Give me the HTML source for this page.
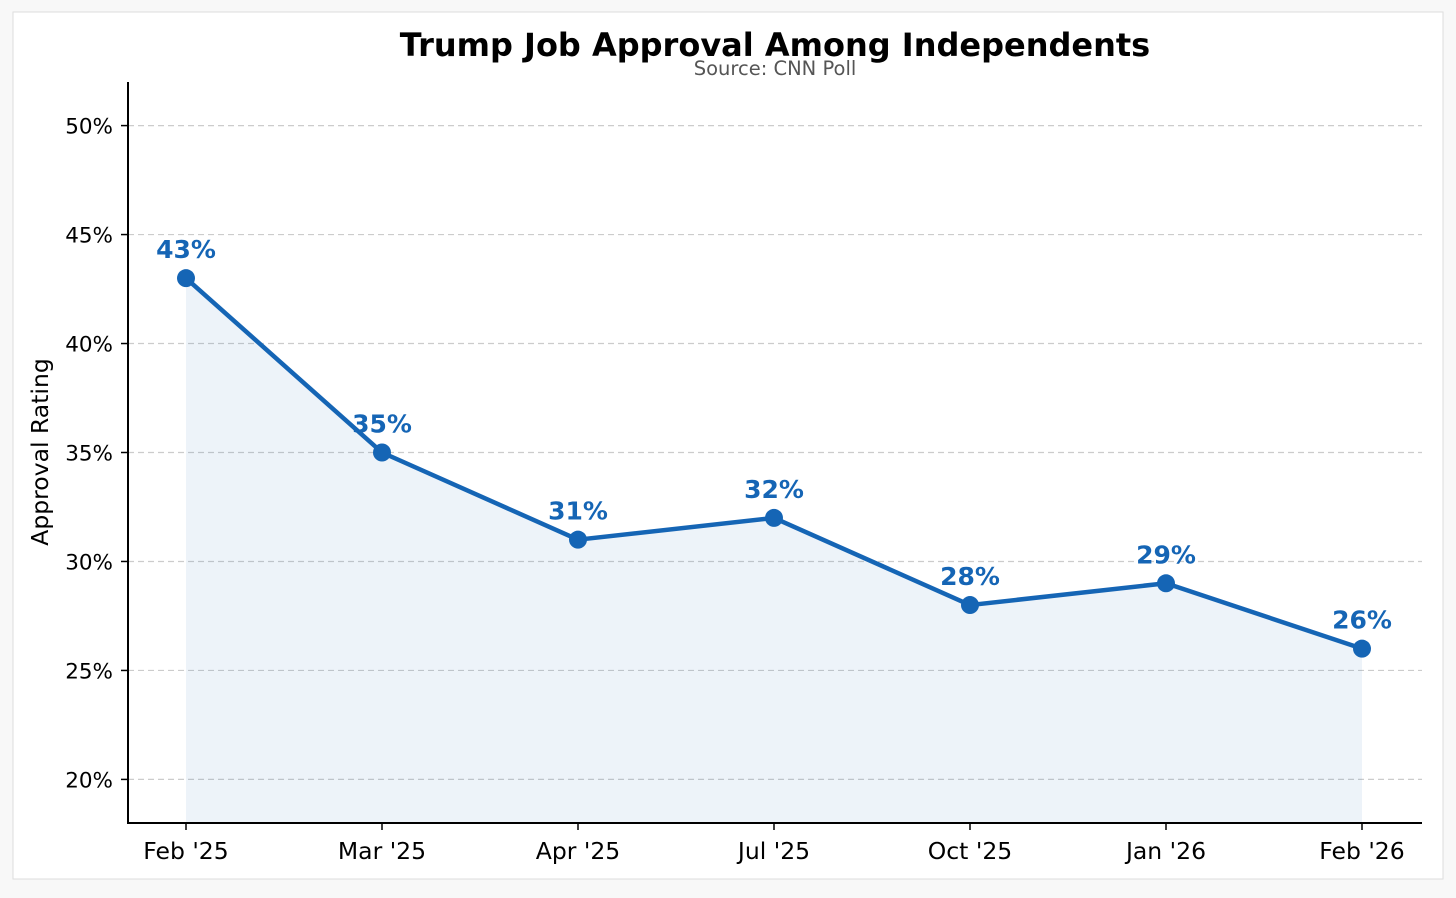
<!DOCTYPE html>
<html><head><meta charset="utf-8"><style>
html,body{margin:0;padding:0;background:#f8f8f8;width:1456px;height:898px;overflow:hidden}
svg{display:block;font-family:"DejaVu Sans","Liberation Sans",sans-serif}
</style></head><body>
<svg id="chart" width="1456" height="898">
<rect x="13" y="12" width="1430" height="867" fill="#fff" stroke="#ddd"/>
<text x="775" y="56" text-anchor="middle" font-size="32" font-weight="bold" fill="#000">Trump Job Approval Among Independents</text>
<text x="775" y="75" text-anchor="middle" font-size="19.5" fill="#555">Source: CNN Poll</text>
<text transform="translate(48,452) rotate(-90)" text-anchor="middle" font-size="23.5" fill="#000">Approval Rating</text>
<g id="grid"></g><g id="area"></g><g id="line"></g><g id="axes"></g><g id="labels"></g>
</svg>
<script>
const categories=["Feb '25","Mar '25","Apr '25","Jul '25","Oct '25","Jan '26","Feb '26"];
const values=[43,35,31,32,28,29,26];
const yTicks=[20,25,30,35,40,45,50];
const NS="http://www.w3.org/2000/svg";
const yMin=18,yMax=52,plotTop=82,plotBottom=823,plotLeft=128,plotRight=1422;
const x0=186,dx=196;
function xs(i){return x0+i*dx;}
function ys(v){return plotBottom-(v-yMin)/(yMax-yMin)*(plotBottom-plotTop);}
function mk(p,t,a){const e=document.createElementNS(NS,t);for(const k in a)e.setAttribute(k,a[k]);document.getElementById(p).appendChild(e);return e;}
yTicks.forEach(t=>{
 const g=mk('grid','line',{x1:plotLeft,x2:plotRight,y1:ys(t),y2:ys(t),stroke:'#ccc','stroke-dasharray':'6,4','stroke-width':1.2});
 
 
 const tk=mk('axes','line',{x1:plotLeft-7,x2:plotLeft,y1:ys(t),y2:ys(t),stroke:'#000','stroke-width':1.5});
 
 
 const tl=mk('axes','text',{x:plotLeft-15,y:ys(t)+8,'text-anchor':'end','font-size':21.5,fill:'#000'});
 tl.textContent=t+'%';
 
 
});
const pts=values.map((v,i)=>xs(i)+','+ys(v));
const ar=mk('area','polygon',{points:xs(0)+','+plotBottom+' '+pts.join(' ')+' '+xs(values.length-1)+','+plotBottom,fill:'#1565b5','fill-opacity':0.08});


const pl=mk('line','polyline',{points:pts.join(' '),fill:'none',stroke:'#1565b5','stroke-width':4.5,'stroke-linejoin':'round'});


values.forEach((v,i)=>{
 const c=mk('line','circle',{cx:xs(i),cy:ys(v),r:9,fill:'#1565b5'});
 
 
 const l=mk('labels','text',{x:xs(i),y:ys(v)-20,'text-anchor':'middle','font-size':25,'font-weight':'bold',fill:'#1565b5'});
 l.textContent=v+'%';
 
 
 const tk=mk('axes','line',{x1:xs(i),x2:xs(i),y1:plotBottom,y2:plotBottom+7,stroke:'#000','stroke-width':1.5});
 
 
 const tl=mk('axes','text',{x:xs(i),y:plotBottom+36,'text-anchor':'middle','font-size':23.5,fill:'#000'});
 tl.textContent=categories[i];
 
 
});
const sp=mk('axes','path',{d:`M${plotLeft},${plotTop} V${plotBottom} H${plotRight}`,fill:'none',stroke:'#000','stroke-width':2});


</script>
</body></html>
